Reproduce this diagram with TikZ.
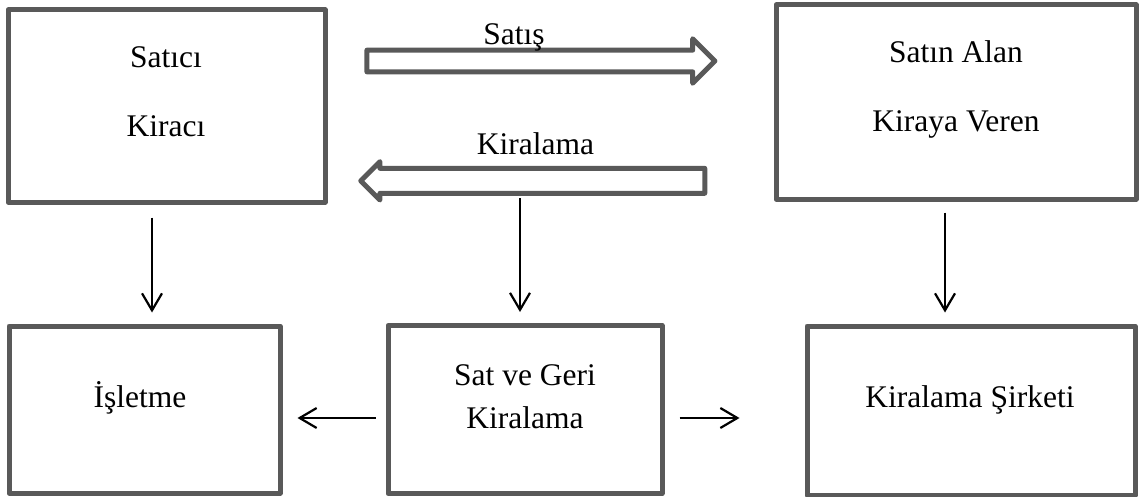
\documentclass[tikz,border=0pt]{standalone}
\usepackage{fontspec}
\setmainfont{Liberation Serif}
\usepackage{tikz}
\usetikzlibrary{arrows.meta,shapes.arrows}
\definecolor{framegray}{RGB}{89,89,89}

\begin{document}
\begin{tikzpicture}[x=1pt,y=-1pt]
            \tikzstyle{box}=[draw=framegray,line width=5pt,line join=round,rectangle,inner sep=0pt]
            \tikzstyle{txt}=[anchor=base,inner sep=0pt,font=\fontsize{31.5pt}{38pt}\selectfont]
            \tikzstyle{fat arrow}=[draw=framegray,line width=5pt,line join=round,single arrow,single arrow tip angle=90,inner xsep=0pt]
            \tikzstyle{conn}=[draw=black,line width=2.2pt,-{Straight Barb[length=17pt,width=20pt]}]
            \useasboundingbox (0,0) rectangle (1139,497);

            % boxes
            \node[box,minimum width=317pt,minimum height=192pt] (A) at (166.5,106) {};
            \node[box,minimum width=360pt,minimum height=194pt] (B) at (956,102) {};
            \node[box,minimum width=271pt,minimum height=167pt] (D) at (144.5,409.5) {};
            \node[box,minimum width=274pt,minimum height=168pt] (E) at (525,409.5) {};
            \node[box,minimum width=328pt,minimum height=169pt] (F) at (971,410.5) {};

            \node[txt] (A1) at (166,68) {Satıcı};
            \node[txt] (A2) at (166,137) {Kiracı};
            \node[txt] (B1) at (956,63) {Satın Alan};
            \node[txt] (B2) at (956,132) {Kiraya Veren};
            \node[txt] (D1) at (140,407) {İşletme};
            \node[txt] (E1) at (525,385) {Sat ve Geri};
            \node[txt] (E2) at (525,428) {Kiralama};
            \node[txt] (F1) at (970,407) {Kiralama Şirketi};

            % block arrows
            \node[fat arrow,minimum height=348pt,inner ysep=8.35pt,single arrow head extend=11.4pt] (S) at (535.5,61) {};
            \node[fat arrow,minimum height=344pt,inner ysep=10pt,single arrow head extend=6.7pt,shape border rotate=180] (K) at (539,180.8) {};
            \node[txt] (S1) at (514,45) {Satış};
            \node[txt] (K1) at (535.5,155) {Kiralama};

            \draw[conn,shorten <=17.2pt,shorten >=11pt] ([xshift=-19pt]K.center) -- ([xshift=-5pt]E.north);
            \draw[conn,shorten <=13pt,shorten >=11pt] ([xshift=-14.5pt]A.south) -- ([xshift=7.5pt]D.north);
            \draw[conn,shorten <=11pt,shorten >=11pt] ([xshift=-11pt]B.south) -- ([xshift=-26pt]F.north);
            \draw[conn,shorten <=10pt,shorten >=15pt] ([yshift=-8.5pt]E.west) -- ([yshift=-8.5pt]D.east);
            \draw[conn,shorten <=15pt,shorten >=65pt] ([yshift=-8.5pt]E.east) -- ([yshift=-7.5pt]F.west);
        \end{tikzpicture}
\end{document}
